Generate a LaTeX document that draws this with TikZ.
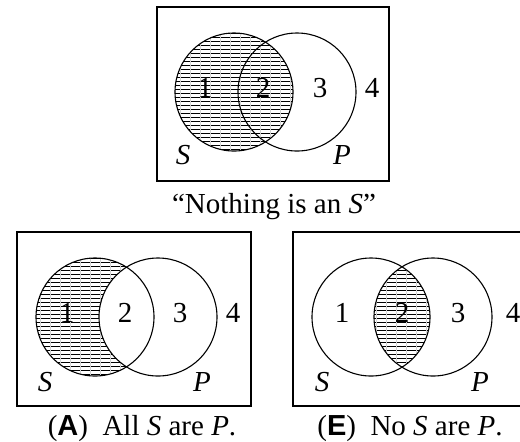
\documentclass[tikz,border=0pt]{standalone}
\usepackage{fontspec}
\setmainfont{Liberation Serif}
\setsansfont{Liberation Sans}
\usetikzlibrary{positioning}
% horizontal hatching with the faint vertical grid of the print
\newcommand\hatchfill{%
  \foreach \yy in {2,6,...,178} \draw[hatch] (-5,\yy) -- (240,\yy);
  \foreach \xx in {3,13,...,233} \draw[gridline] (\xx,-5) -- (\xx,180);}
\begin{document}
\begin{tikzpicture}[x=0.5pt,y=-0.5pt,font=\fontsize{14.5}{17}\selectfont,
  frame/.style={draw,line width=0.6pt},
  ring/.style={draw,line width=0.55pt},
  hatch/.style={line width=0.45pt},
  gridline/.style={gray!35,line width=0.3pt},
  lbl/.style={inner sep=0pt}]
  \useasboundingbox (0,0) rectangle (520,441);
  % top panel: Nothing is an S
  \begin{scope}[shift={(157,7)}]
    \coordinate (ts) at (77,85);
    \coordinate (tp) at (140,85);
    \begin{scope}
      \clip (ts) circle (29.5pt);
      \hatchfill
    \end{scope}
    \draw[frame] (0,0) rectangle (232,174);
    \draw[ring] (ts) circle (29.5pt);
    \draw[ring] (tp) circle (29.5pt);
    \node[lbl] (t1) at (48,81) {1};
    \node[lbl] (t2) at (106,81) {2};
    \node[lbl] (t3) at (163,81) {3};
    \node[lbl] (t4) at (215,81) {4};
    \node[lbl] (tS) at (26,148) {\textit{S}};
    \node[lbl] (tP) at (185,148) {\textit{P}};
    \node[lbl] (tcap) at (117,200) {“Nothing is an \textit{S}”};
  \end{scope}
  % (A) All S are P
  \begin{scope}[shift={(17,232)}]
    \coordinate (as) at (78,85);
    \coordinate (ap) at (141,85);
    \begin{scope}
      \clip (as) circle (29.5pt);
      \begin{scope}[even odd rule]
        \clip (ap) circle (29.5pt) (-10,-10) rectangle (250,190);
        \hatchfill
      \end{scope}
    \end{scope}
    \draw[frame] (0,0) rectangle (234,174);
    \draw[ring] (as) circle (29.5pt);
    \draw[ring] (ap) circle (29.5pt);
    \node[lbl] (a1) at (50,81) {1};
    \node[lbl] (a2) at (108,81) {2};
    \node[lbl] (a3) at (163,81) {3};
    \node[lbl] (a4) at (216,81) {4};
    \node[lbl] (aS) at (28,150) {\textit{S}};
    \node[lbl] (aP) at (185,150) {\textit{P}};
    \node[lbl] (acap) at (125,197) {(\textsf{\bfseries A})\enspace All \textit{S} are \textit{P}.};
  \end{scope}
  % (E) No S are P
  \begin{scope}[shift={(293,232)}]
    \coordinate (es) at (78,85);
    \coordinate (ep) at (140,85);
    \begin{scope}
      \clip (es) circle (29.5pt);
      \clip (ep) circle (29.5pt);
      \hatchfill
    \end{scope}
    \draw[frame] (0,0) rectangle (234,174);
    \draw[ring] (es) circle (29.5pt);
    \draw[ring] (ep) circle (29.5pt);
    \node[lbl] (e1) at (49,81) {1};
    \node[lbl] (e2) at (109,81) {2};
    \node[lbl] (e3) at (165,81) {3};
    \node[lbl] (e4) at (220,81) {4};
    \node[lbl] (eS) at (29,150) {\textit{S}};
    \node[lbl] (eP) at (187,150) {\textit{P}};
    \node[lbl] (ecap) at (117,197) {(\textsf{\bfseries E})\enspace No \textit{S} are \textit{P}.};
  \end{scope}
\end{tikzpicture}
\end{document}
